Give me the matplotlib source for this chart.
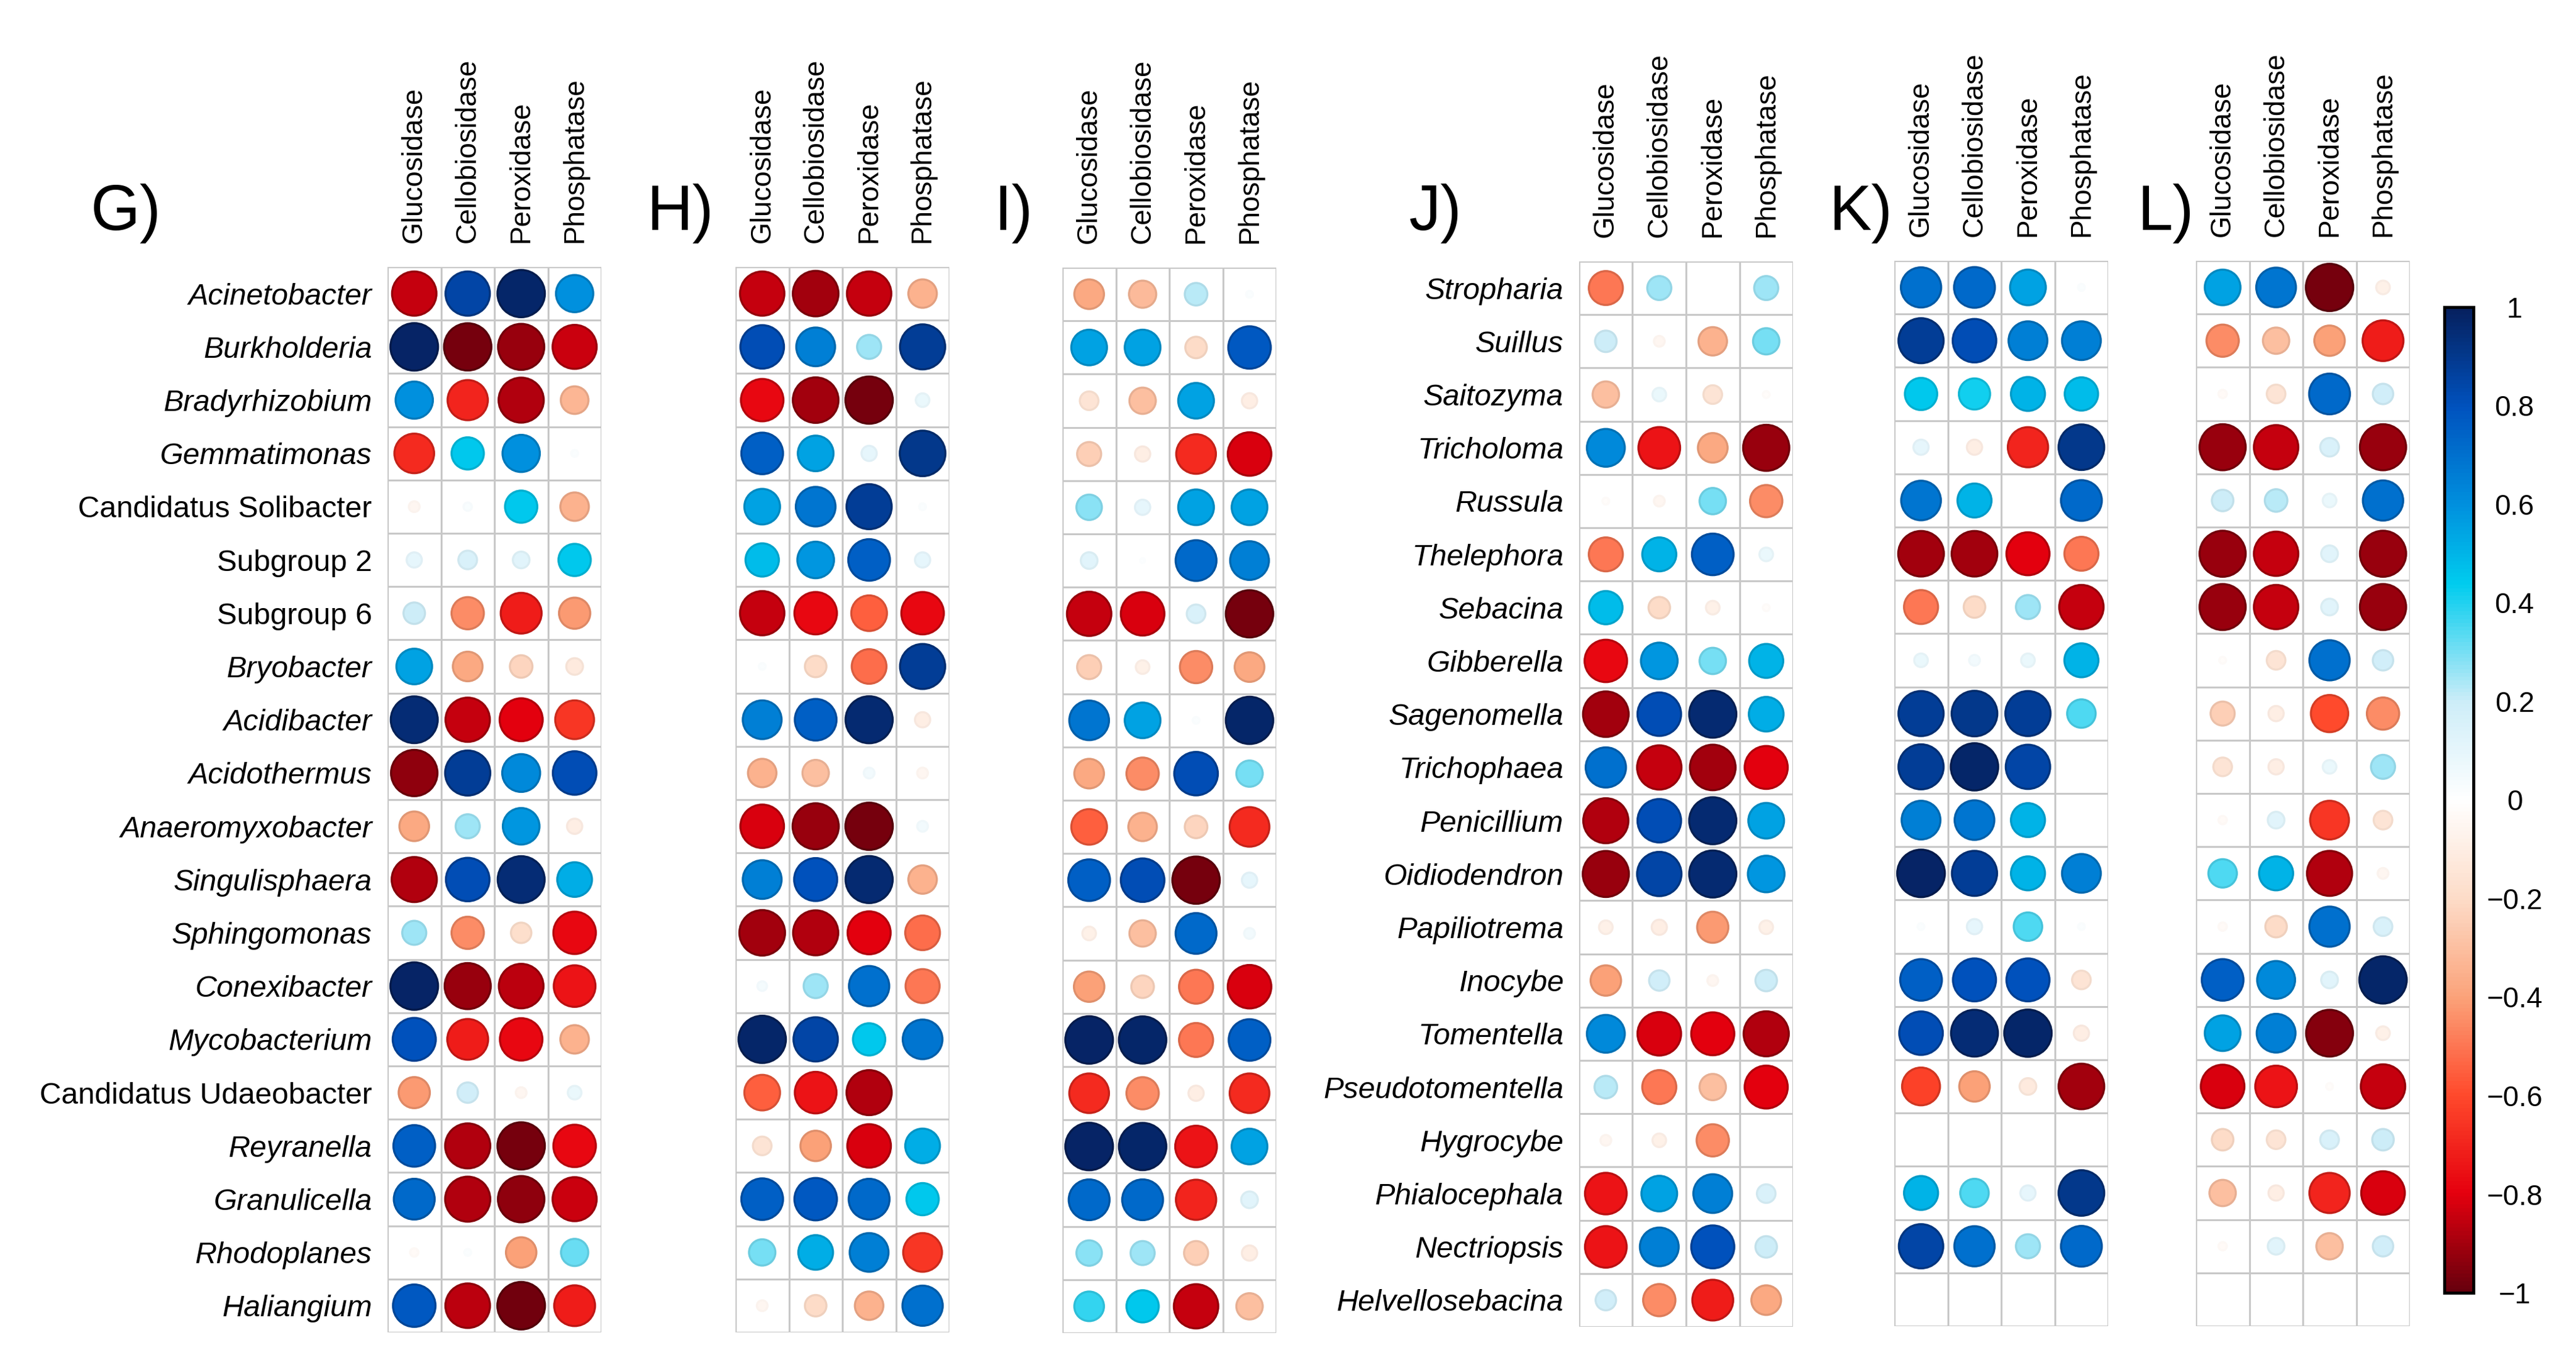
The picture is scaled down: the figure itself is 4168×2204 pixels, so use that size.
import numpy as np
import matplotlib
matplotlib.use("Agg")
import matplotlib.pyplot as plt
from matplotlib.patches import Circle
from matplotlib.colors import LinearSegmentedColormap, Normalize
from matplotlib.cm import ScalarMappable

plt.rcParams['font.family'] = ['Liberation Sans', 'DejaVu Sans']

# ---- data ----
enzymes = ["Glucosidase", "Cellobiosidase", "Peroxidase", "Phosphatase"]

bact_taxa = ["Acinetobacter", "Burkholderia", "Bradyrhizobium", "Gemmatimonas",
             "Candidatus Solibacter", "Subgroup 2", "Subgroup 6", "Bryobacter",
             "Acidibacter", "Acidothermus", "Anaeromyxobacter", "Singulisphaera",
             "Sphingomonas", "Conexibacter", "Mycobacterium", "Candidatus Udaeobacter",
             "Reyranella", "Granulicella", "Rhodoplanes", "Haliangium"]
bact_upright = ["Candidatus Solibacter", "Subgroup 2", "Subgroup 6", "Candidatus Udaeobacter"]

fungi_taxa = ["Stropharia", "Suillus", "Saitozyma", "Tricholoma", "Russula",
              "Thelephora", "Sebacina", "Gibberella", "Sagenomella", "Trichophaea",
              "Penicillium", "Oidiodendron", "Papiliotrema", "Inocybe", "Tomentella",
              "Pseudotomentella", "Hygrocybe", "Phialocephala", "Nectriopsis",
              "Helvellosebacina"]

g_vals = [[-0.85, 0.85, 0.97, 0.60],
          [0.98, -0.97, -0.92, -0.84],
          [0.60, -0.70, -0.88, -0.33],
          [-0.68, 0.45, 0.60, 0.02],
          [-0.05, 0.03, 0.45, -0.35],
          [0.10, 0.15, 0.12, 0.45],
          [0.20, -0.45, -0.72, -0.42],
          [0.55, -0.38, -0.22, -0.12],
          [0.95, -0.85, -0.80, -0.65],
          [-0.93, 0.88, 0.62, 0.82],
          [-0.38, 0.25, 0.58, -0.10],
          [-0.88, 0.82, 0.95, 0.52],
          [0.25, -0.45, -0.18, -0.78],
          [0.98, -0.92, -0.86, -0.75],
          [0.80, -0.72, -0.78, -0.35],
          [-0.42, 0.18, -0.05, 0.08],
          [0.75, -0.88, -0.97, -0.78],
          [0.72, -0.88, -0.93, -0.84],
          [-0.03, 0.02, -0.40, 0.32],
          [0.78, -0.86, -0.98, -0.72]]

h_vals = [[-0.85, -0.90, -0.85, -0.35],
          [0.82, 0.65, 0.25, 0.88],
          [-0.78, -0.90, -0.97, 0.08],
          [0.75, 0.55, 0.10, 0.90],
          [0.55, 0.68, 0.88, 0.02],
          [0.48, 0.58, 0.75, 0.10],
          [-0.85, -0.78, -0.55, -0.78],
          [0.02, -0.20, -0.52, 0.88],
          [0.65, 0.75, 0.96, -0.10],
          [-0.35, -0.30, 0.05, -0.05],
          [-0.82, -0.92, -0.97, 0.05],
          [0.65, 0.80, 0.96, -0.35],
          [-0.90, -0.88, -0.80, -0.52],
          [0.04, 0.25, 0.70, -0.50],
          [0.97, 0.85, 0.45, 0.68],
          [-0.55, -0.75, -0.88, 0.0],
          [-0.15, -0.40, -0.82, 0.52],
          [0.75, 0.78, 0.72, 0.45],
          [0.30, 0.52, 0.65, -0.65],
          [-0.05, -0.20, -0.35, 0.70]]

i_vals = [[-0.38, -0.32, 0.22, 0.02],
          [0.55, 0.55, -0.20, 0.78],
          [-0.15, -0.30, 0.55, -0.10],
          [-0.25, -0.10, -0.68, -0.82],
          [0.28, 0.10, 0.55, 0.55],
          [0.12, 0.01, 0.72, 0.65],
          [-0.85, -0.82, 0.15, -0.97],
          [-0.25, -0.08, -0.45, -0.38],
          [0.68, 0.55, 0.02, 0.97],
          [-0.38, -0.45, 0.82, 0.30],
          [-0.55, -0.35, -0.22, -0.68],
          [0.75, 0.82, -0.97, 0.10],
          [-0.08, -0.30, 0.72, 0.05],
          [-0.40, -0.22, -0.50, -0.82],
          [0.98, 0.97, -0.50, 0.75],
          [-0.68, -0.45, -0.10, -0.68],
          [0.98, 0.97, -0.75, 0.55],
          [0.72, 0.72, -0.70, 0.12],
          [0.28, 0.25, -0.25, -0.10],
          [0.38, 0.45, -0.85, -0.30]]

j_vals = [[-0.50, 0.25, 0.0, 0.25],
          [0.20, -0.05, -0.35, 0.30],
          [-0.30, 0.08, -0.15, -0.02],
          [0.62, -0.75, -0.38, -0.92],
          [-0.02, -0.05, 0.30, -0.45],
          [-0.50, 0.50, 0.75, 0.08],
          [0.48, -0.20, -0.08, -0.02],
          [-0.78, 0.58, 0.30, 0.50],
          [-0.90, 0.82, 0.96, 0.52],
          [0.70, -0.85, -0.90, -0.80],
          [-0.88, 0.82, 0.96, 0.55],
          [-0.92, 0.85, 0.96, 0.58],
          [-0.08, -0.10, -0.42, -0.08],
          [-0.40, 0.18, -0.05, 0.20],
          [0.62, -0.82, -0.80, -0.88],
          [0.22, -0.50, -0.30, -0.80],
          [-0.05, -0.08, -0.45, 0.0],
          [-0.75, 0.55, 0.65, 0.15],
          [-0.75, 0.65, 0.80, 0.20],
          [0.18, -0.45, -0.72, -0.38]]

k_vals = [[0.70, 0.72, 0.55, 0.02],
          [0.88, 0.82, 0.65, 0.65],
          [0.45, 0.42, 0.50, 0.48],
          [0.10, -0.10, -0.70, 0.90],
          [0.68, 0.50, 0.0, 0.72],
          [-0.90, -0.90, -0.80, -0.50],
          [-0.50, -0.20, 0.25, -0.85],
          [0.08, 0.05, 0.08, 0.50],
          [0.88, 0.90, 0.88, 0.35],
          [0.88, 0.97, 0.85, 0.0],
          [0.65, 0.68, 0.50, 0.0],
          [0.98, 0.88, 0.50, 0.65],
          [0.02, 0.10, 0.35, 0.02],
          [0.75, 0.80, 0.80, -0.15],
          [0.82, 0.95, 0.97, -0.10],
          [-0.62, -0.40, -0.12, -0.90],
          [0.0, 0.0, 0.0, 0.0],
          [0.50, 0.35, 0.10, 0.90],
          [0.85, 0.70, 0.25, 0.72],
          [0.0, 0.0, 0.0, 0.0]]

l_vals = [[0.55, 0.68, -0.97, -0.08],
          [-0.45, -0.30, -0.40, -0.72],
          [-0.03, -0.15, 0.72, 0.18],
          [-0.92, -0.85, 0.15, -0.92],
          [0.20, 0.22, 0.08, 0.70],
          [-0.92, -0.85, 0.12, -0.92],
          [-0.92, -0.85, 0.12, -0.92],
          [-0.02, -0.15, 0.70, 0.18],
          [-0.25, -0.10, -0.60, -0.45],
          [-0.15, -0.10, 0.08, 0.25],
          [-0.03, 0.12, -0.65, -0.15],
          [0.35, 0.50, -0.88, -0.05],
          [-0.03, -0.20, 0.70, 0.15],
          [0.75, 0.62, 0.12, 0.97],
          [0.55, 0.65, -0.95, -0.08],
          [-0.82, -0.75, -0.02, -0.85],
          [-0.20, -0.15, 0.15, 0.20],
          [-0.30, -0.10, -0.70, -0.82],
          [-0.03, 0.12, -0.30, 0.18],
          [0.0, 0.0, 0.0, 0.0]]

cbar_ticks = [1, 0.8, 0.6, 0.4, 0.2, 0, -0.2, -0.4, -0.6, -0.8, -1]
cbar_labels = ["1", "0.8", "0.6", "0.4", "0.2", "0", "\u22120.2", "\u22120.4",
               "\u22120.6", "\u22120.8", "\u22121"]

# ---- layout (pixels) ----
W, H = 4168, 2204
fig = plt.figure(figsize=(W / 100, H / 100), dpi=100)

cmap = LinearSegmentedColormap.from_list("corr", [
    (0.00, "#67000D"), (0.10, "#E5000E"), (0.20, "#FF4A2C"), (0.30, "#FBA37A"),
    (0.40, "#FDDCC8"), (0.50, "#FFFFFF"), (0.60, "#CDEDF8"), (0.72, "#00CCEE"),
    (0.80, "#0090DE"), (0.90, "#0052BE"), (1.00, "#06205E")])
norm = Normalize(-1, 1)

cw, ch = 86.5, 86.2


def px_axes(left, top, w, h):
    return fig.add_axes([left / W, 1 - (top + h) / H, w / W, h / H])


def panel(left, top, vals, rows=None, upright=()):
    vals = np.array(vals)
    nr, nc = vals.shape
    ax = px_axes(left, top, nc * cw, nr * ch)
    ax.set_xlim(0, nc)
    ax.set_ylim(nr, 0)
    for k in range(nr + 1):
        ax.plot([0, nc], [k, k], color="#C8C8C8", lw=2.2, zorder=1)
    for k in range(nc + 1):
        ax.plot([k, k], [0, nr], color="#C8C8C8", lw=2.2, zorder=1)
    for r in range(nr):
        for c in range(nc):
            v = vals[r, c]
            if abs(v) < 0.005:
                continue
            fc = np.array(cmap(norm(v))[:3])
            # rim a little darker for the strong colours only
            ec = fc * (1 - 0.28 * abs(v))
            rad = 0.45 * np.sqrt(abs(v))
            ax.add_patch(Circle((c + 0.5, r + 0.5), rad, facecolor=fc,
                                edgecolor=ec, lw=2.4, zorder=2))
    for s in ax.spines.values():
        s.set_visible(False)
    ax.xaxis.tick_top()
    ax.set_xticks(np.arange(nc) + 0.5)
    ax.set_xticklabels(enzymes, rotation=90, fontsize=33)
    ax.tick_params(axis="x", length=0, pad=28)
    ax.set_yticks(np.arange(nr) + 0.5)
    if rows is not None:
        ax.set_yticklabels(rows, fontsize=35)
        for lab in ax.get_yticklabels():
            lab.set_fontstyle("normal" if lab.get_text() in upright else "italic")
    else:
        ax.set_yticklabels([])
    ax.tick_params(axis="y", length=0, pad=18)
    return ax


panel(627, 432, g_vals, bact_taxa, bact_upright)
panel(1190, 432, h_vals)
panel(1719, 433, i_vals)
panel(2555, 423, j_vals, fungi_taxa)
panel(3065, 422, k_vals)
panel(3553, 422, l_vals)

letters = ["G)", "H)", "I)", "J)", "K)", "L)"]
letter_x = [204, 1101, 1640, 2322, 3011, 3504]
for t, x in zip(letters, letter_x):
    fig.text(x / W, 1 - 345 / H, t, fontsize=74, ha="center", va="center")

# ---- colour bar ----
cax = px_axes(3955, 497, 47, 1595)
cb = fig.colorbar(ScalarMappable(norm=norm, cmap=cmap), cax=cax)
cb.outline.set_linewidth(3.5)
cb.outline.set_edgecolor("black")
cb.set_ticks(cbar_ticks)
cb.set_ticklabels(cbar_labels)
cax.tick_params(length=0, pad=48, labelsize=33)
for lab in cax.get_yticklabels():
    lab.set_horizontalalignment("center")

fig.savefig("out.png", dpi=100, facecolor="white")
